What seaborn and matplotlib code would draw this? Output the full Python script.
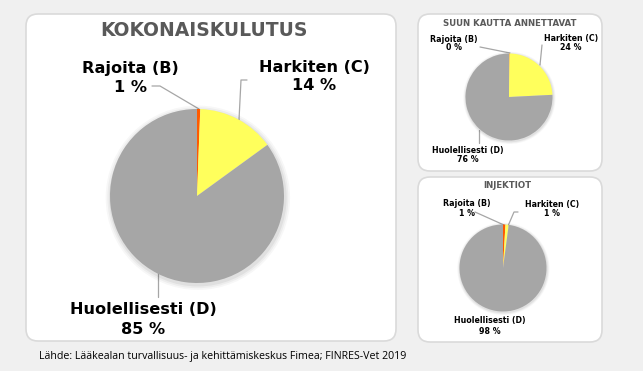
import matplotlib
matplotlib.use("Agg")
import matplotlib.pyplot as plt
from matplotlib.patches import FancyBboxPatch, Circle
import seaborn as sns

sns.set_style("white")
plt.rcParams['font.family'] = ['DejaVu Sans']

# data (share of use, %)
categories = ["Rajoita (B)", "Harkiten (C)", "Huolellisesti (D)"]
total_vals = [0.6, 14.4, 85.0]
oral_vals = [0.2, 24.0, 75.8]
inj_vals = [0.9, 1.2, 97.9]
total_labels = ["1 %", "14 %", "85 %"]
oral_labels = ["0 %", "24 %", "76 %"]
inj_labels = ["1 %", "1 %", "98 %"]
titles = ["KOKONAISKULUTUS", "SUUN KAUTTA ANNETTAVAT", "INJEKTIOT"]
source = "Lähde: Lääkealan turvallisuus- ja kehittämiskeskus Fimea; FINRES-Vet 2019"

colors = ["#ff5a00", "#ffff5c", "#a6a6a6"]
W, H = 643, 371

fig = plt.figure(figsize=(W / 100, H / 100), dpi=100)
fig.patch.set_facecolor("#f0f0f0")

# background axes in pixel coordinates
bg = fig.add_axes([0, 0, 1, 1])
bg.set_xlim(0, W)
bg.set_ylim(H, 0)
bg.axis("off")

def panel(x0, y0, x1, y1):
    bg.add_patch(FancyBboxPatch((x0, y0), x1 - x0, y1 - y0,
                                boxstyle="round,pad=0,rounding_size=12",
                                facecolor="white", edgecolor="#dadada", lw=1.2))

panel(26, 14, 396, 341)
panel(418, 14, 602, 171)
panel(418, 177, 602, 342)

def draw_pie(vals, cx, cy, r):
    ax = fig.add_axes([(cx - r) / W, (H - cy - r) / H, 2 * r / W, 2 * r / H])
    for k, a in enumerate([0.05, 0.04, 0.03]):
        ax.add_patch(Circle((0.01, -0.02), 1.0 + 0.02 * (k + 1), color="black",
                            alpha=a, lw=0, zorder=0))
    ax.pie(vals, colors=colors, startangle=90, counterclock=False,
           wedgeprops=dict(linewidth=0))
    ax.set_xlim(-1.08, 1.08)
    ax.set_ylim(-1.08, 1.08)
    ax.axis("off")
    return ax

draw_pie(total_vals, 197, 196, 87 * 1.08)
draw_pie(oral_vals, 509, 97, 43.5 * 1.08)
draw_pie(inj_vals, 503, 268, 43.5 * 1.08)

# titles
bg.text(204, 31, titles[0], ha="center", va="center", fontsize=13.5,
        fontweight="bold", color="#595959")
bg.text(510, 23, titles[1], ha="center", va="center", fontsize=6.2,
        fontweight="bold", color="#595959")
bg.text(507, 185, titles[2], ha="center", va="center", fontsize=6.2,
        fontweight="bold", color="#595959")

line_kw = dict(color="#a6a6a6", lw=0.9, zorder=1)

# main labels
big = dict(ha="center", va="center", fontsize=11.6, fontweight="bold", color="black")
bg.text(130, 68, categories[0], **big)
bg.text(130, 87, total_labels[0], **big)
bg.text(314, 67, categories[1], **big)
bg.text(314, 86, total_labels[1], **big)
bg.text(143, 310, categories[2], **big)
bg.text(143, 329, total_labels[2], **big)
bg.plot([152, 160, 199], [86, 86, 109], **line_kw)
bg.plot([247, 241, 239], [80, 80, 120], **line_kw)
bg.plot([158, 158], [273, 297], **line_kw)

small = dict(ha="center", va="center", fontsize=5.7, fontweight="bold", color="black")
# oral labels
bg.text(454, 39, categories[0], **small)
bg.text(454, 48, oral_labels[0], **small)
bg.text(571, 38, categories[1], **small)
bg.text(571, 47, oral_labels[1], **small)
bg.text(468, 150, categories[2], **small)
bg.text(468, 160, oral_labels[2], **small)
bg.plot([480, 510], [47, 53], **line_kw)
bg.plot([542, 540], [45, 65], **line_kw)
bg.plot([479, 479], [130, 143], **line_kw)

# injection labels
bg.text(467, 203, categories[0], **small)
bg.text(467, 213, inj_labels[0], **small)
bg.text(552, 204, categories[1], **small)
bg.text(552, 213, inj_labels[1], **small)
bg.text(490, 321, categories[2], **small)
bg.text(490, 331, inj_labels[2], **small)
bg.plot([475, 504], [212, 225], **line_kw)
bg.plot([518, 514, 508], [212, 212, 226], **line_kw)

bg.text(39, 356, source, ha="left", va="center", fontsize=7.7,
        family=["Open Sans", "DejaVu Sans"], color="black")

fig.savefig("out.png", dpi=100, facecolor=fig.get_facecolor())
